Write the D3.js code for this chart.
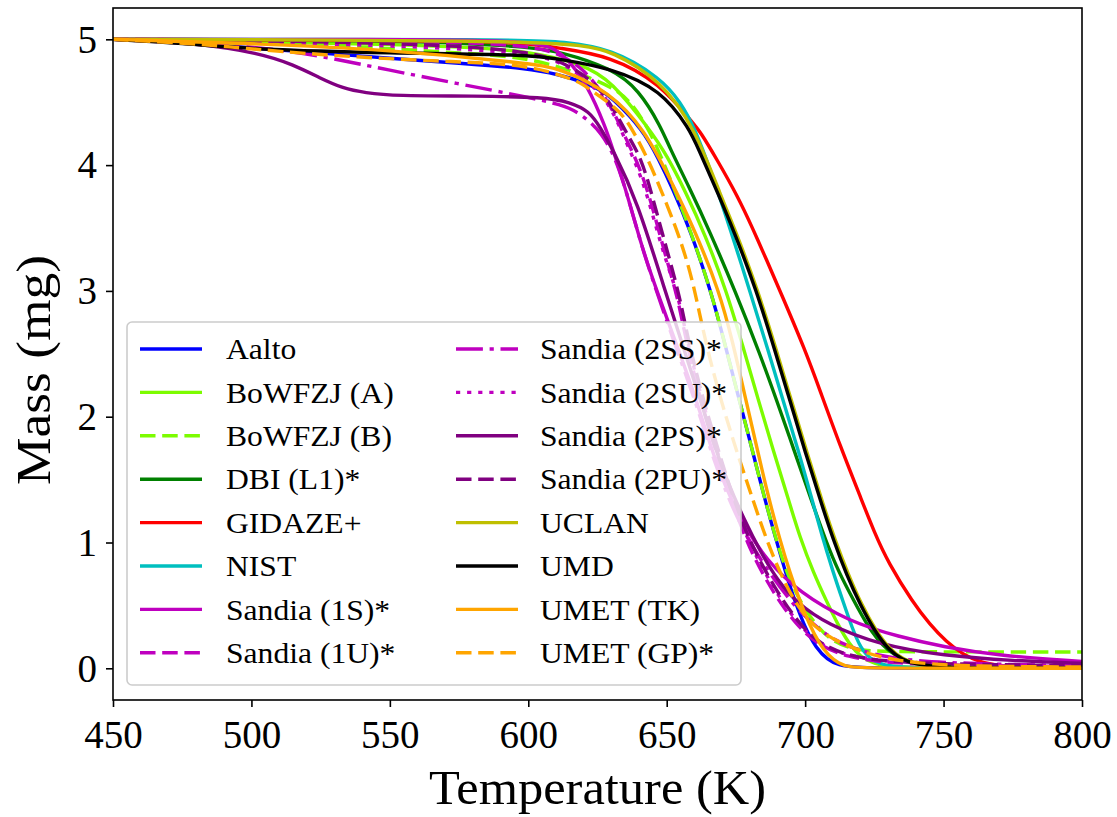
<!DOCTYPE html>
<html><head><meta charset="utf-8">
<script src="https://cdn.jsdelivr.net/npm/d3@7"></script>
<style>body{margin:0;background:#fff}svg{display:block}text{font-family:"Liberation Serif","Times New Roman",serif;fill:#000}</style>
</head><body>
<svg id="c" width="1117" height="817"></svg>
<script>
// ---------- data (Temperature K, Mass mg) ----------
const seriesNames = ["Aalto","BoWFZJ (A)","BoWFZJ (B)","DBI (L1)*","GIDAZE+","NIST","Sandia (1S)*","Sandia (1U)*","Sandia (2SS)*","Sandia (2SU)*","Sandia (2PS)*","Sandia (2PU)*","UCLAN","UMD","UMET (TK)","UMET (GP)*"];
const xTicks = [450,500,550,600,650,700,750,800];
const yTicks = [0,1,2,3,4,5];

const aalto = [[450,5],[475,4.98],[500,4.93],[525,4.89],[550,4.85],[575,4.81],[600,4.77],[611,4.72],[620,4.66],[626,4.6],[630,4.54],[641.5,4.28],[647,4.05],[652,3.82],[658.4,3.49],[666,3.0],[671,2.58],[676,2.15],[680.5,1.77],[685,1.38],[689.5,1.02],[693,0.76],[696,0.55],[700,0.32],[704,0.16],[708,0.07],[712,0.025],[718,0.005],[740,0],[800,0]];
const bowA = [[450,5],[500,4.98],[550,4.96],[575,4.94],[600,4.91],[620,4.8],[630,4.67],[644,4.28],[650,4.08],[657,3.78],[663.8,3.45],[671.6,3.0],[677.5,2.56],[683,2.14],[688.5,1.73],[694,1.34],[698.1,1.04],[703,0.76],[708,0.52],[712,0.34],[716,0.19],[720,0.09],[725,0.035],[732,0.01],[750,0],[800,0]];
const bowB = [[450,5],[500,4.97],[550,4.93],[575,4.89],[600,4.86],[620,4.72],[632,4.6],[637,4.5],[644,4.28],[651.5,3.88],[658.6,3.48],[666,3.0],[671,2.58],[676,2.15],[680.5,1.77],[685,1.38],[689.5,1.02],[694,0.72],[698.5,0.52],[703.6,0.35],[709,0.23],[715,0.165],[722,0.14],[732,0.132],[760,0.13],[800,0.13]];
const dbi = [[450,5],[550,4.99],[575,4.97],[600,4.94],[612,4.9],[630,4.77],[640,4.6],[648,4.3],[651,4.14],[658,3.83],[665.6,3.47],[674.7,3.0],[684,2.48],[689.7,2.13],[696,1.735],[702,1.35],[707.7,1.0],[712,0.77],[718,0.52],[722,0.36],[726,0.23],[730,0.14],[735,0.07],[742,0.025],[755,0.005],[800,0]];
const gidaze = [[450,5],[575,4.99],[600,4.97],[611,4.93],[629.5,4.87],[647.6,4.65],[659.6,4.33],[662,4.27],[668,4.05],[675.7,3.75],[681.2,3.49],[686,3.25],[691.5,2.97],[700,2.53],[705.5,2.2],[712.6,1.77],[720,1.36],[725,1.08],[730,0.84],[739,0.52],[745,0.35],[751,0.21],[757,0.11],[763,0.05],[770,0.02],[780,0.005],[800,0]];
const nist = [[450,5],[600,5.0],[612,4.98],[630,4.93],[648,4.69],[655,4.5],[660,4.3],[666,3.95],[673,3.49],[680,3.0],[686.6,2.53],[692,2.13],[697.5,1.735],[702,1.38],[706,1.06],[710,0.77],[713.7,0.53],[717,0.32],[720,0.16],[724,0.06],[730,0.015],[740,0],[800,0]];
const sandia1S = [[450,5],[550,5],[600,4.99],[610,4.93],[615,4.82],[621,4.65],[628,4.3],[630.6,4.12],[636,3.75],[641,3.35],[646.4,3.0],[654.8,2.5],[660.8,2.13],[665.6,1.78],[671,1.45],[677.5,1.15],[686,0.86],[698,0.6],[716,0.37],[734,0.25],[750,0.17],[770,0.1],[800,0.055]];
const sandia1U = [[450,5],[550,4.99],[600,4.96],[612,4.88],[620,4.76],[626,4.6],[631,4.42],[635,4.22],[640,4.0],[644.5,3.7],[649,3.32],[654,2.95],[657,2.6],[662,2.15],[667,1.78],[672,1.42],[677,1.12],[681,0.9],[689,0.58],[697,0.34],[705,0.18],[715,0.09],[730,0.04],[760,0.02],[800,0.015]];
const sandia2SS = [[450,5],[480,4.98],[500,4.94],[515,4.9],[529,4.85],[548.6,4.76],[574,4.65],[600,4.54],[612,4.48],[618,4.42],[623,4.33],[626,4.26],[631,4.09],[636,3.75],[641,3.35],[647,2.95],[655,2.45],[661,2.08],[666,1.72],[671,1.42],[677,1.12],[685,0.82],[695,0.52],[705,0.3],[715,0.17],[730,0.08],[750,0.04],[800,0.02]];
const sandia2SU = [[450,5],[500,4.98],[550,4.95],[600,4.9],[613,4.81],[622,4.66],[628,4.52],[632,4.36],[636,4.15],[641,3.9],[645,3.6],[649.5,3.25],[654.4,2.95],[657.4,2.6],[662.5,2.15],[667.5,1.78],[672.5,1.42],[677.5,1.12],[681.5,0.92],[689.5,0.6],[697.5,0.35],[705,0.19],[715,0.1],[730,0.05],[760,0.025],[800,0.02]];
const sandia2PS = [[450,5],[480,4.97],[503,4.89],[515,4.8],[525,4.69],[533,4.61],[541,4.575],[552,4.55],[580,4.55],[606,4.54],[615,4.5],[622,4.43],[626,4.3],[630.6,4.12],[639.3,3.72],[649.4,3.0],[656,2.55],[662,2.15],[667,1.78],[672,1.48],[678,1.18],[684,0.92],[690,0.7],[697,0.52],[708,0.35],[727,0.185],[750,0.1],[775,0.06],[800,0.04]];
const sandia2PU = [[450,5],[500,4.99],[550,4.97],[580,4.94],[600,4.9],[613,4.82],[623,4.67],[627,4.57],[631,4.44],[635.6,4.25],[641,4.05],[645.2,3.72],[650,3.33],[654.8,2.95],[657.8,2.6],[663,2.15],[668,1.78],[673,1.42],[678,1.12],[682,0.92],[690,0.6],[698,0.35],[705,0.2],[715,0.1],[730,0.05],[760,0.03],[800,0.02]];
const uclan = [[450,5],[600,4.99],[620,4.95],[630,4.91],[648,4.67],[660,4.3],[670,3.73],[675,3.47],[683,3.0],[689.6,2.53],[695,2.13],[700.6,1.72],[706.5,1.3],[710.8,1.02],[715.5,0.75],[720.5,0.5],[725.5,0.3],[730.5,0.15],[735.5,0.07],[741,0.025],[750,0.006],[760,0],[800,0]];
const umd = [[450,5],[475,4.97],[500,4.92],[550,4.89],[600,4.88],[612,4.84],[630,4.77],[648,4.6],[658.4,4.28],[661,4.15],[669,3.75],[674,3.49],[682.5,3.0],[689,2.53],[694.5,2.13],[700,1.72],[706,1.3],[710.2,1.02],[715,0.74],[720,0.5],[725,0.3],[730,0.15],[735,0.07],[740,0.03],[750,0.008],[760,0],[800,0]];
const umetTK = [[450,5],[497,4.97],[548.6,4.92],[600,4.81],[611.5,4.77],[629.5,4.58],[642,4.28],[651,3.9],[660,3.49],[669,3.0],[674,2.58],[678.3,2.16],[682.5,1.76],[686.5,1.38],[690.9,1.02],[694.5,0.76],[698,0.54],[701.5,0.35],[705,0.2],[708.5,0.1],[712,0.04],[716,0.01],[722,0],[800,0]];
const umetGP = [[450,5],[484,4.96],[501,4.92],[535.6,4.86],[574,4.82],[600,4.8],[618,4.67],[621,4.62],[633,4.44],[637.7,4.28],[643.2,4.05],[648,3.8],[653.6,3.49],[657.2,3.25],[660.2,3.0],[664.4,2.55],[670,2.1],[675.3,1.72],[681,1.35],[686,1.02],[693,0.65],[700,0.4],[707,0.27],[714,0.19],[721,0.13],[728,0.085],[740,0.04],[760,0.015],[800,0.01]];

const seriesData = [aalto,bowA,bowB,dbi,gidaze,nist,sandia1S,sandia1U,sandia2SS,sandia2SU,sandia2PS,sandia2PU,uclan,umd,umetTK,umetGP];

// ---------- styles ----------
const colors = ["#0000ff","#7cfc00","#7cfc00","#008000","#ff0000","#00bfbf","#bf00bf","#bf00bf","#bf00bf","#bf00bf","#800080","#800080","#bfbf00","#000000","#ffa500","#ffa500"];
const DASH = "15.5,6.7", DASHDOT = "26.9,6.7,4.2,6.7", DOT = "4.2,6.9";
const dashes = [null,null,DASH,null,null,null,null,DASH,DASHDOT,DOT,null,DASH,null,null,null,DASH];

// ---------- layout ----------
const L = 113, R = 1082, T = 8, B = 700;
const svg = d3.select("#c");
const x = d3.scaleLinear().domain([450,800]).range([L,R]);
const y = d3.scaleLinear().domain([-0.252,5.249]).range([B,T]);

svg.append("defs").append("clipPath").attr("id","clip")
  .append("rect").attr("x",L).attr("y",T).attr("width",R-L).attr("height",B-T);

const line = d3.line().x(d=>x(d[0])).y(d=>y(d[1])).curve(d3.curveBasis);
const g = svg.append("g").attr("clip-path","url(#clip)");
seriesData.forEach((s,i)=>{
  g.append("path").attr("d",line(s)).attr("fill","none")
   .attr("stroke",colors[i]).attr("stroke-width",3.4)
   .attr("stroke-dasharray",dashes[i]).attr("stroke-linejoin","round");
});

// axes
const xa = svg.append("g").attr("transform",`translate(0,${B})`)
  .call(d3.axisBottom(x).tickValues(xTicks).tickSize(7).tickPadding(8).tickFormat(d3.format("d")));
const ya = svg.append("g").attr("transform",`translate(${L},0)`)
  .call(d3.axisLeft(y).tickValues(yTicks).tickSize(7).tickPadding(9).tickFormat(d3.format("d")));
[xa,ya].forEach(a=>{
  a.select(".domain").remove();
  a.selectAll(".tick line").attr("stroke","#000").attr("stroke-width",1.6);
  a.selectAll(".tick text").attr("font-size",39).attr("font-family","Liberation Serif").attr("fill","#000");
});
xa.selectAll(".tick text").attr("dy","0.85em");
ya.selectAll(".tick text").attr("dy","0.33em");
svg.append("rect").attr("x",L).attr("y",T).attr("width",R-L).attr("height",B-T)
  .attr("fill","none").attr("stroke","#000").attr("stroke-width",1.6);

svg.append("text").attr("x",(L+R)/2).attr("y",804).attr("text-anchor","middle")
  .attr("font-size",48).attr("textLength",337).attr("lengthAdjust","spacingAndGlyphs").text("Temperature (K)");
svg.append("text").attr("transform",`translate(50,370) rotate(-90)`).attr("text-anchor","middle")
  .attr("font-size",48).attr("textLength",230).attr("lengthAdjust","spacingAndGlyphs").text("Mass (mg)");

// legend
const lg = svg.append("g");
lg.append("rect").attr("x",127).attr("y",322).attr("width",614).attr("height",363).attr("rx",5)
  .attr("fill","#fff").attr("fill-opacity",0.8).attr("stroke","#cccccc").attr("stroke-width",1.6);
const rowY = d3.range(8).map(i=>349+i*43.4);
seriesNames.forEach((n,i)=>{
  const col = Math.floor(i/8), r = i%8;
  const hx = col===0 ? 140 : 456;
  const tx = col===0 ? 226 : 540;
  lg.append("line").attr("x1",hx).attr("x2",hx+62).attr("y1",rowY[r]).attr("y2",rowY[r])
    .attr("stroke",colors[i]).attr("stroke-width",3.4).attr("stroke-dasharray",dashes[i]);
  const t = lg.append("text").attr("x",tx).attr("y",rowY[r]).attr("dy","0.35em").attr("font-size",29).text(n);
  const w = t.node().getComputedTextLength();
  t.attr("textLength",w*1.09).attr("lengthAdjust","spacingAndGlyphs");
});
</script>
</body></html>
